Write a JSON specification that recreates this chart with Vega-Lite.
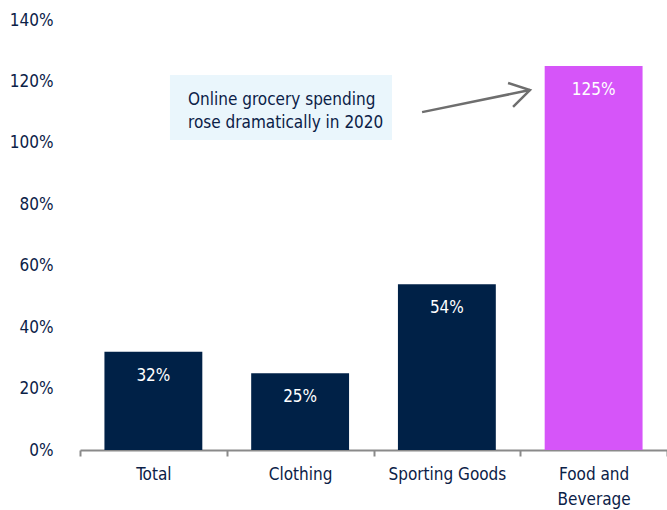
{
  "$schema": "https://vega.github.io/schema/vega-lite/v6.json",
  "width": 587,
  "height": 430,
  "autosize": {"type": "none"},
  "padding": {"left": 80, "top": 20, "right": 0, "bottom": 60},
  "background": "white",
  "config": {
    "font": "Liberation Sans Narrow, DejaVu Sans Condensed, sans-serif",
    "view": {"stroke": null}
  },
  "datasets": {
    "bars": [
      {"category": "Total", "value": 0.32, "label": "32%", "highlight": "no"},
      {"category": "Clothing", "value": 0.25, "label": "25%", "highlight": "no"},
      {"category": "Sporting Goods", "value": 0.54, "label": "54%", "highlight": "no"},
      {"category": "Food and Beverage", "value": 1.25, "label": "125%", "highlight": "yes"}
    ],
    "box": [
      {"x": 0.613, "x2": 2.126, "y": 1.009, "y2": 1.221}
    ],
    "note": [
      {"x": 0.736, "y": 1.14, "text": "Online grocery spending"},
      {"x": 0.736, "y": 1.065, "text": "rose dramatically in 2020"}
    ],
    "arrow": [
      {"part": "shaft", "order": 1, "x": 2.331, "y": 1.100},
      {"part": "shaft", "order": 2, "x": 3.066, "y": 1.172},
      {"part": "head", "order": 1, "x": 2.917, "y": 1.195},
      {"part": "head", "order": 2, "x": 3.066, "y": 1.172},
      {"part": "head", "order": 3, "x": 2.951, "y": 1.117}
    ]
  },
  "layer": [
    {
      "data": {"name": "bars"},
      "layer": [
        {
          "mark": {"type": "bar", "width": {"band": 0.667}},
          "encoding": {
            "x": {
              "field": "category", "type": "nominal", "sort": null,
              "scale": {"paddingInner": 0, "paddingOuter": 0},
              "axis": {
                "title": null, "labelAngle": 0, "labelFontSize": 17, "labelColor": "#0b2147",
                "labelPadding": 10, "labelLineHeight": 25, "tickBand": "extent",
                "domainColor": "#8a8a8a", "tickColor": "#8a8a8a", "tickSize": 6, "domainWidth": 2, "tickWidth": 2,
                "labelExpr": "datum.value == 'Food and Beverage' ? ['Food and', 'Beverage'] : datum.value"
              }
            },
            "y": {
              "field": "value", "type": "quantitative",
              "scale": {"domain": [0, 1.4]},
              "axis": {
                "title": null, "format": ".0%", "values": [0, 0.2, 0.4, 0.6, 0.8, 1.0, 1.2, 1.4],
                "grid": false, "domain": false, "ticks": false, "labelPadding": 27,
                "labelFontSize": 17, "labelColor": "#0b2147"
              }
            },
            "color": {
              "field": "highlight", "type": "nominal",
              "scale": {"domain": ["no", "yes"], "range": ["#002147", "#d655f9"]},
              "legend": null
            }
          }
        },
        {
          "mark": {"type": "text", "color": "white", "fontSize": 17, "baseline": "middle", "dy": 24},
          "encoding": {
            "x": {"field": "category", "type": "nominal", "sort": null},
            "y": {"field": "value", "type": "quantitative"},
            "text": {"field": "label"}
          }
        }
      ]
    },
    {
      "data": {"name": "box"},
      "mark": {"type": "rect", "color": "#eaf6fc"},
      "encoding": {
        "x": {"field": "x", "type": "quantitative", "scale": {"domain": [0, 4]}, "axis": null},
        "x2": {"field": "x2"},
        "y": {"field": "y", "type": "quantitative"},
        "y2": {"field": "y2"}
      }
    },
    {
      "data": {"name": "note"},
      "mark": {"type": "text", "align": "left", "baseline": "middle", "fontSize": 17, "color": "#0b2147"},
      "encoding": {
        "x": {"field": "x", "type": "quantitative", "scale": {"domain": [0, 4]}, "axis": null},
        "y": {"field": "y", "type": "quantitative"},
        "text": {"field": "text"}
      }
    },
    {
      "data": {"name": "arrow"},
      "mark": {"type": "line", "color": "#6e6e6e", "strokeWidth": 2.5},
      "encoding": {
        "x": {"field": "x", "type": "quantitative", "scale": {"domain": [0, 4]}, "axis": null},
        "y": {"field": "y", "type": "quantitative"},
        "detail": {"field": "part"},
        "order": {"field": "order"}
      }
    }
  ],
  "resolve": {"scale": {"x": "independent"}}
}
